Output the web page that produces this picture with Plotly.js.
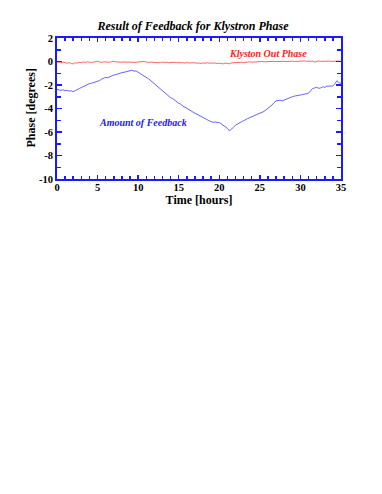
<!DOCTYPE html>
<html>
<head>
<meta charset="utf-8">
<script src="https://cdn.plot.ly/plotly-3.0.1.min.js"></script>
<style>html,body{margin:0;padding:0;background:#fff}#chart{width:382px;height:494px}</style>
</head>
<body>
<div id="chart"></div>
<script>
// Sampling step of the recordings, hours
const timeStep = 0.25;

// Amount of Feedback (degrees), one value per 0.25 h from 0 to 35 h
const feedback = [
-2.37,-2.42,-2.46,-2.41,-2.48,-2.45,-2.52,-2.49,-2.57,-2.48,-2.42,-2.30,-2.22,-2.12,-2.03,-1.97,
-1.88,-1.85,-1.80,-1.76,-1.72,-1.62,-1.50,-1.42,-1.35,-1.38,-1.29,-1.22,-1.15,-1.12,-1.05,-1.01,
-0.95,-0.92,-0.86,-0.80,-0.78,-0.74,-0.83,-0.80,-0.92,-1.02,-1.13,-1.22,-1.35,-1.46,-1.60,-1.75,
-1.90,-2.05,-2.20,-2.33,-2.48,-2.65,-2.80,-2.92,-3.08,-3.15,-3.30,-3.42,-3.56,-3.62,-3.80,-3.88,
-4.00,-4.12,-4.20,-4.30,-4.40,-4.48,-4.60,-4.66,-4.75,-4.86,-4.95,-5.05,-5.12,-5.18,-5.14,-5.20,
-5.18,-5.30,-5.42,-5.55,-5.69,-5.90,-5.78,-5.60,-5.42,-5.30,-5.20,-5.12,-5.04,-4.92,-4.85,-4.78,
-4.70,-4.62,-4.55,-4.50,-4.40,-4.36,-4.25,-4.12,-4.00,-3.85,-3.70,-3.50,-3.35,-3.32,-3.30,-3.35,
-3.28,-3.15,-3.10,-3.05,-3.00,-2.95,-2.90,-2.88,-2.85,-2.82,-2.80,-2.74,-2.70,-2.50,-2.30,-2.25,
-2.20,-2.28,-2.25,-2.15,-2.20,-2.10,-2.10,-2.05,-2.08,-1.90,-1.63,-1.80,-1.86
];

// Klystron output phase (degrees), same sampling
const klystronOut = [
-0.08,-0.05,-0.12,-0.06,-0.10,-0.15,-0.08,-0.18,-0.20,-0.10,-0.14,-0.06,-0.10,-0.04,-0.08,-0.02,
-0.06,-0.10,-0.05,-0.02,0.02,-0.04,-0.08,-0.03,-0.05,-0.01,-0.06,-0.02,0.03,-0.03,-0.05,-0.02,
-0.06,-0.03,-0.07,-0.04,-0.06,-0.02,-0.05,-0.08,-0.04,-0.02,-0.06,0.00,-0.04,-0.09,-0.05,-0.07,
-0.03,-0.06,-0.10,-0.08,-0.05,-0.09,-0.06,-0.10,-0.08,-0.12,-0.07,-0.10,-0.08,-0.12,-0.10,-0.13,
-0.09,-0.12,-0.10,-0.14,-0.11,-0.15,-0.12,-0.16,-0.12,-0.15,-0.11,-0.14,-0.12,-0.16,-0.13,-0.18,
-0.14,-0.17,-0.20,-0.13,-0.15,-0.20,-0.12,-0.10,-0.12,-0.08,-0.10,-0.06,-0.09,-0.05,-0.07,-0.03,
-0.06,-0.04,-0.02,-0.05,-0.03,0.00,-0.03,-0.01,0.01,-0.02,0.00,0.02,-0.01,0.01,0.03,0.00,
0.02,-0.01,0.02,0.00,0.03,0.00,0.02,0.04,0.01,0.03,0.05,0.02,0.04,0.01,0.03,-0.05,
0.02,0.05,0.01,0.03,0.00,0.02,0.04,0.01,0.03,0.00,0.02,0.04,0.01
];

const seriesNames = ["Klyston Out Phase", "Amount of Feedback"];
const xTickVals = [0, 5, 10, 15, 20, 25, 30, 35];
const yTickVals = [2, 0, -2, -4, -6, -8, -10];
const yTickText = ["2", "0", "-2", "-4", "-6", "-8", "-10"];

const hours = feedback.map((_, i) => i * timeStep);

const serif = "Liberation Serif, Times New Roman, serif";
const frameBlue = "#1a1aff";

const traces = [
  {x: hours, y: klystronOut, type: "scatter", mode: "lines", name: seriesNames[0],
   line: {color: "#ff6464", width: 1}},
  {x: hours, y: feedback, type: "scatter", mode: "lines", name: seriesNames[1],
   line: {color: "#6464ff", width: 1}}
];

const axisCommon = {
  showline: true, linecolor: frameBlue, linewidth: 2, mirror: "allticks",
  ticks: "inside", tickcolor: frameBlue, tickwidth: 1.5, ticklen: 5,
  showgrid: false, zeroline: false,
  tickfont: {family: serif, size: 10.5, color: "#000", weight: "bold"}
};

const layout = {
  width: 382, height: 494,
  margin: {l: 57, r: 41, t: 38, b: 315},
  paper_bgcolor: "#fff", plot_bgcolor: "#fff",
  showlegend: false,
  title: {text: "Result of Feedback for Klystron Phase",
          font: {family: serif, size: 12, color: "#000", weight: "bold", style: "italic"},
          x: 193/382, xref: "container", xanchor: "center",
          y: 1 - 26/494, yref: "container", yanchor: "middle"},
  xaxis: Object.assign({}, axisCommon, {
    range: [0, 35], tickvals: xTickVals, ticklen: 4, ticklabelstandoff: -3,
    minor: {dtick: 1, ticks: "inside", ticklen: 3, tickcolor: frameBlue, tickwidth: 1.5},
    title: {text: "Time [hours]", standoff: 0,
            font: {family: serif, size: 12, color: "#000", weight: "bold"}}
  }),
  yaxis: Object.assign({}, axisCommon, {
    range: [-10, 2], tickvals: yTickVals, ticktext: yTickText,
    minor: {dtick: 1, ticks: "inside", ticklen: 4, tickcolor: frameBlue, tickwidth: 1.5}
  }),
  annotations: [
    {x: 0, y: 0.5, xref: "paper", yref: "paper", xanchor: "center", yanchor: "middle",
     xshift: -27, textangle: -90,
     text: "Phase [degrees]", showarrow: false,
     font: {family: serif, size: 12, color: "#000", weight: "bold"}},
    {x: 26.0, y: 0.72, xref: "x", yref: "y", text: seriesNames[0], showarrow: false,
     font: {family: serif, size: 10, color: "#ff2020", weight: "bold", style: "italic"}},
    {x: 10.6, y: -5.23, xref: "x", yref: "y", text: seriesNames[1], showarrow: false,
     font: {family: serif, size: 10, color: "#2020ff", weight: "bold", style: "italic"}}
  ]
};

Plotly.newPlot("chart", traces, layout, {displayModeBar: false, staticPlot: true});
</script>
</body>
</html>
